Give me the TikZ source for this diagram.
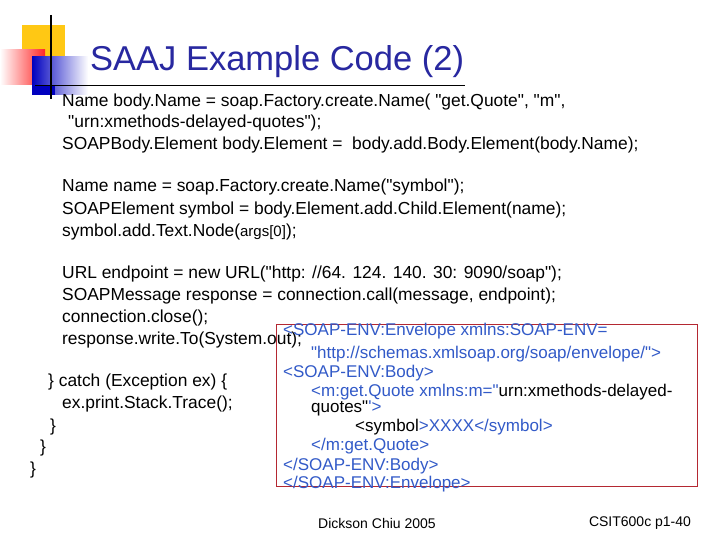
\documentclass[tikz,border=0pt]{standalone}
\usepackage{fontspec}
\setmainfont{Liberation Sans}[Ligatures=TeXOff]
\usetikzlibrary{positioning}
\definecolor{titleblue}{RGB}{40,40,160}
\definecolor{xmlblue}{RGB}{50,90,200}
\definecolor{boxred}{RGB}{180,40,50}
\definecolor{decoyellow}{RGB}{255,200,20}
\begin{document}
\begin{tikzpicture}[
    x=1pt, y=-1pt,
    % code lines on the slide
    code_line/.style={anchor=west, inner sep=0pt, font=\fontsize{17.4}{19}\selectfont},
    % lines inside the xml box
    xml_line/.style={anchor=west, inner sep=0pt, font=\fontsize{17}{18}\selectfont, text=xmlblue},
    foot_style/.style={inner sep=0pt, font=\fontsize{14}{16}\selectfont}
]
    \useasboundingbox (0,0) rectangle (720,540);
    \fill[white] (0,0) rectangle (720,540);

    % 1. Corner decoration
    \fill[decoyellow] (22,25) rectangle (65,65);
    \shade[left color=white, right color=red!85] (0,50) rectangle (45,85);
    \shade[left color=blue!75!black, right color=white] (32,57) rectangle (88,95);
    \fill[blue!75!black] (32,86) rectangle (55,95);
    \draw[line width=1.5pt] (51,15) -- (51,99);
    \draw[line width=1pt] (35,86) -- (465,86);

    % 2. Title
    \node[anchor=west, inner sep=0pt, text=titleblue, font=\fontsize{34.5}{38}\selectfont] (title) at (90,62) {SAAJ Example Code (2)};

    % 3. Code lines
    \node[code_line] (l1) at (62,102) {Name body.Name = soap.Factory.create.Name( "get.Quote", "m",};
    \node[code_line] (l2) at (68,123) {"urn:xmethods-delayed-quotes");};
    \node[code_line] (l3) at (62,145) {SOAPBody.Element body.Element =\ \ body.add.Body.Element(body.Name);};
    \node[code_line] (l4) at (62,187) {Name name = soap.Factory.create.Name("symbol");};
    \node[code_line] (l5) at (62,210) {SOAPElement symbol = body.Element.add.Child.Element(name);};
    \node[code_line] (l6) at (62,232) {symbol.add.Text.Node({\fontsize{15}{16}\selectfont args[0]});};
    \node[code_line] (l7) at (62,274) {URL endpoint = new URL("http: //64. 124. 140. 30: 9090/soap");};
    \node[code_line] (l8) at (62,296) {SOAPMessage response = connection.call(message, endpoint);};
    \node[code_line] (l9) at (62,318) {connection.close();};
    \node[code_line] (l10) at (62,340) {response.write.To(System.out);};
    \node[code_line] (l11) at (48,382) {\} catch (Exception ex) \{};
    \node[code_line] (l12) at (62,404) {ex.print.Stack.Trace();};
    \node[code_line] (l13) at (50,427) {\}};
    \node[code_line] (l14) at (40,448) {\}};
    \node[code_line] (l15) at (30,470) {\}};

    % 4. XML message box
    \draw[boxred] (276,324) rectangle (697,486);
    \node[xml_line] (x1) at (283,331) {<SOAP-ENV:Envelope xmlns:SOAP-ENV=};
    \node[xml_line] (x2) at (311,354) {"http://schemas.xmlsoap.org/soap/envelope/">};
    \node[xml_line] (x3) at (283,373) {<SOAP-ENV:Body>};
    \node[xml_line] (x4) at (311,392) {<m:get.Quote xmlns:m="\textcolor{black}{ urn:xmethods-delayed-}};
    \node[xml_line] (x5) at (311,408) {\textcolor{black}{quotes"}'>};
    \node[xml_line] (x6) at (355,427) {\textcolor{black}{<symbol}>XXXX</symbol>};
    \node[xml_line] (x7) at (311,446) {</m:get.Quote>};
    \node[xml_line] (x8) at (283,466) {</SOAP-ENV:Body>};
    \node[xml_line] (x9) at (283,484) {</SOAP-ENV:Envelope>};

    % 5. Footer
    \node[foot_style] (author) at (377,523) {Dickson Chiu 2005};
    \node[foot_style] (page) at (640,523) {CSIT600c p1-40};
\end{tikzpicture}
\end{document}
